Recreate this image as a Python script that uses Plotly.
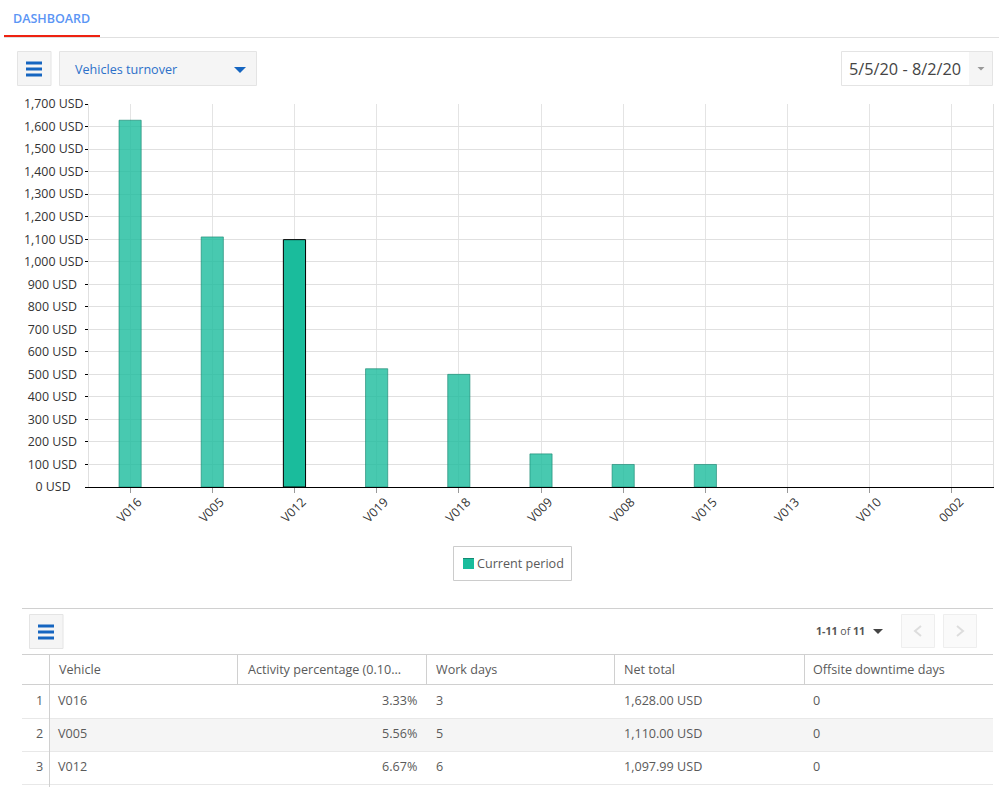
import plotly.graph_objects as go

W = 999
H = 787

vehicles = ["V016", "V005", "V012", "V019", "V018", "V009", "V008", "V015", "V013", "V010", "0002"]
net_total = [1628.00, 1110.00, 1097.99, 525, 500, 147, 100, 100, 0, 0, 0]
highlighted = "V012"
series_name = "Current period"
y_ticks = [0, 100, 200, 300, 400, 500, 600, 700, 800, 900, 1000, 1100, 1200, 1300, 1400, 1500, 1600, 1700]

table_headers = ["Vehicle", "Activity percentage (0.10...", "Work days", "Net total", "Offsite downtime days"]
row_numbers = ["1", "2", "3"]
row_vehicle = ["V016", "V005", "V012"]
row_activity = ["3.33%", "5.56%", "6.67%"]
row_work_days = ["3", "5", "6"]
row_net_total = ["1,628.00 USD", "1,110.00 USD", "1,097.99 USD"]
row_offsite = ["0", "0", "0"]

FONT = "Open Sans"
BLUE = "#1565c0"
LINE = "#e4e4e4"
TABLE_LINE = "#d0d0d0"
PANEL = "#f5f5f5"
TEXT = "#5a5a5a"
BODY_SIZE = 12.6


def px(x):
    return x / W


def py(y):
    return 1 - y / H


def tick_label(v):
    # labels are centred in the reference, so pad the right side with nbsp
    s = f"{v:,} USD"
    return s + "\u00a0" * {9: 0, 7: 2, 5: 4}[len(s)]


shapes = []
annotations = []


def rect(x0, y0, x1, y1, fill=None, line=None, width=1):
    shapes.append(dict(type="rect", xref="paper", yref="paper",
                       x0=px(x0), y0=py(y0), x1=px(x1), y1=py(y1),
                       fillcolor=fill or "rgba(0,0,0,0)",
                       line=dict(color=line or "rgba(0,0,0,0)", width=width if line else 0),
                       layer="below"))


def hline(x0, x1, y, color=LINE, width=1):
    shapes.append(dict(type="line", xref="paper", yref="paper",
                       x0=px(x0), x1=px(x1), y0=py(y), y1=py(y),
                       line=dict(color=color, width=width), layer="below"))


def vline(x, y0, y1, color=TABLE_LINE, width=1):
    shapes.append(dict(type="line", xref="paper", yref="paper",
                       x0=px(x), x1=px(x), y0=py(y0), y1=py(y1),
                       line=dict(color=color, width=width), layer="below"))


def path(points, fill=None, line=None, width=1.5):
    d = "M " + " L ".join(f"{px(a):.5f},{py(b):.5f}" for a, b in points)
    if fill:
        d += " Z"
    shapes.append(dict(type="path", xref="paper", yref="paper", path=d,
                       fillcolor=fill or "rgba(0,0,0,0)",
                       line=dict(color=line or "rgba(0,0,0,0)", width=width if line else 0)))


def text(x, y, s, size=BODY_SIZE, color=TEXT, anchor="left", weight=None):
    font = dict(family=FONT, size=size, color=color)
    if weight:
        font["weight"] = weight
    annotations.append(dict(xref="paper", yref="paper", x=px(x), y=py(y), text=s,
                            showarrow=False, xanchor=anchor, yanchor="middle",
                            font=font, borderpad=0, borderwidth=0))


def hamburger(x0, y0):
    rect(x0 + 0.5, y0, x0 + 34, y0 + 34, fill=PANEL, line=LINE)
    for dy in (11.5, 17.5, 23.5):
        rect(x0 + 9, y0 + dy - 1.5, x0 + 25, y0 + dy + 1.5, fill=BLUE)


# tab bar
hline(4, 999, 37.5, color="#e0e0e0")
rect(4, 35, 100, 37, fill="#ee2211")
text(13, 18, "DASHBOARD", size=12.5, color="#5b95f5", weight=600)

# toolbar
hamburger(17, 51.5)
rect(59.5, 51.5, 256.5, 85.5, fill=PANEL, line=LINE)
text(75, 69, "Vehicles turnover", color="#2c70c9")
path([(234, 67), (246, 67), (240, 73)], fill=BLUE)
rect(841.5, 51.5, 992.5, 85.5, fill="white", line=LINE)
rect(969, 52, 992, 85, fill=PANEL)
text(849, 69, "5/5/20 - 8/2/20", size=16.3, color="#444444")
path([(977.5, 67), (984.5, 67), (981, 70.5)], fill="#999999")

# legend box, text comes from the series name
rect(453.5, 546.5, 571.5, 580.5, fill="white", line="#cccccc")
rect(463, 558, 474, 569, fill="#1abc9c")
hline(463, 474, 558.5, color="#128a72")
text(477, 563.5, series_name)

# table toolbar
hline(22, 993, 608.5, color=TABLE_LINE)
hamburger(29, 614.5)
text(816, 631, "<b>1-11</b> of <b>11</b>", size=10.6, color="#555555")
path([(873, 629), (883, 629), (878, 634)], fill="#444444")
rect(901.5, 614.5, 934.5, 647.5, fill="#fafafa", line="#eeeeee")
rect(943.5, 614.5, 976.5, 647.5, fill="#fafafa", line="#eeeeee")
path([(921, 626), (915, 631), (921, 636)], line="#dddddd", width=2)
path([(957, 626), (963, 631), (957, 636)], line="#dddddd", width=2)

# table
hline(22, 993, 654.5, color=TABLE_LINE)
hline(22, 993, 684.5, color=TABLE_LINE)
rect(50, 718, 993, 751, fill=PANEL)
for y in (718.5, 751.5, 784.5):
    hline(22, 993, y, color="#e8e8e8")
vline(49.5, 654, 787)
col_left = [59, 248, 436, 624, 813]
for x in (237.5, 426.5, 614.5, 804.5):
    vline(x, 654, 684)
for x, h in zip(col_left, table_headers):
    text(x, 669.5, h)
for i, y in enumerate((700, 733, 766)):
    text(43, y, row_numbers[i], anchor="right")
    text(58, y, row_vehicle[i])
    text(417, y, row_activity[i], anchor="right")
    text(436, y, row_work_days[i])
    text(624, y, row_net_total[i])
    text(813, y, row_offsite[i])

fill_colors = ["#1abc9c" if v == highlighted else "rgba(26,188,156,0.8)" for v in vehicles]
edge_colors = ["#000000" if v == highlighted else "rgba(20,130,108,0.6)" for v in vehicles]
edge_widths = [1 if n > 0 else 0 for n in net_total]

fig = go.Figure()
fig.add_trace(go.Bar(
    x=vehicles, y=net_total, name=series_name, width=0.27,
    marker=dict(color=fill_colors, line=dict(color=edge_colors, width=edge_widths)),
))

fig.update_layout(
    width=W, height=H,
    margin=dict(l=0, r=0, t=0, b=0, autoexpand=False),
    paper_bgcolor="white", plot_bgcolor="white",
    font=dict(family=FONT, size=12.4, color="#333333"),
    shapes=shapes, annotations=annotations,
    hovermode=False,
    showlegend=False,
    xaxis=dict(domain=[px(89), px(993)], anchor="y", type="category",
               categoryorder="array", categoryarray=vehicles,
               range=[-0.5, 10.5], tickangle=-45, ticks="outside", ticklen=5,
               tickcolor="#999999", showgrid=True, gridcolor="#e4e4e4", gridwidth=1,
               showline=True, linecolor="#000000", linewidth=1,
               ticklabelshift=8, ticklabelstandoff=-3,
               tickfont=dict(family=FONT, size=12.4, color="#333333"), fixedrange=True),
    yaxis=dict(domain=[py(487), py(104)], anchor="x", range=[0, 1700],
               tickvals=y_ticks, ticktext=[tick_label(v) for v in y_ticks],
               ticks="outside", ticklen=3, tickcolor="#000000",
               showgrid=True, gridcolor="#e0e0e0", gridwidth=1,
               showline=True, linecolor="#e0e0e0", linewidth=1, mirror=True,
               zeroline=False, ticklabelstandoff=-1,
               tickfont=dict(family=FONT, size=12.4, color="#333333"), fixedrange=True),
)

fig.write_html("out.html", config={"displayModeBar": False},
               post_script="document.body.style.margin='0';document.body.style.overflow='hidden';")
